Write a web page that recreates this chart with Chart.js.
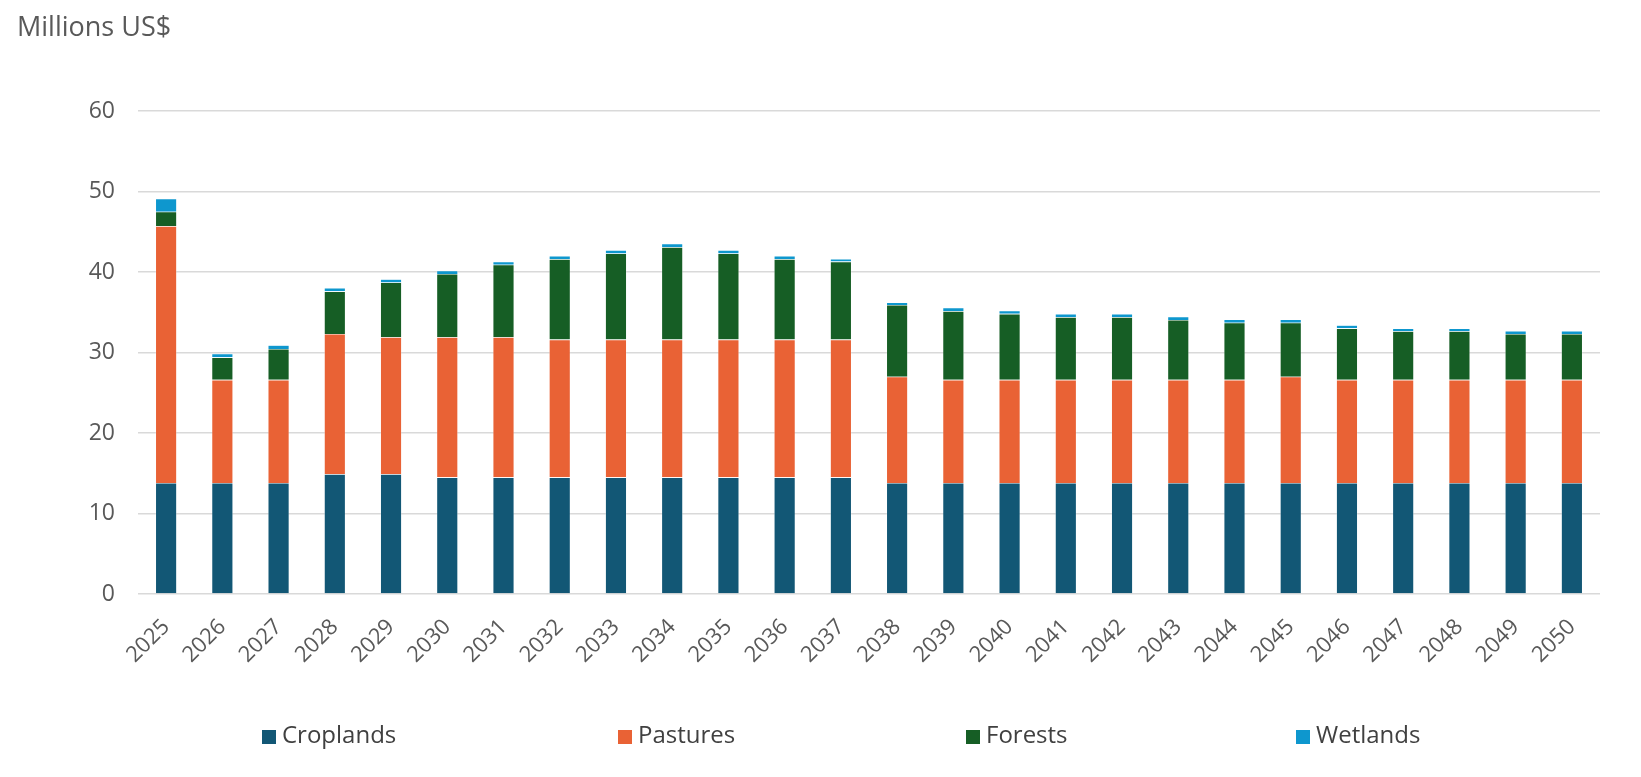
<!DOCTYPE html>
<html>
<head>
<meta charset="utf-8">
<script src="https://cdn.jsdelivr.net/npm/chart.js@4.4.1/dist/chart.umd.min.js"></script>
<style>
  html, body { margin: 0; padding: 0; background: #ffffff; }
  #wrap { position: relative; width: 1641px; height: 777px; }
</style>
</head>
<body>
<div id="wrap"><canvas id="c" width="1641" height="777"></canvas></div>
<script>
const years = ['2025','2026','2027','2028','2029','2030','2031','2032','2033','2034','2035','2036','2037','2038','2039','2040','2041','2042','2043','2044','2045','2046','2047','2048','2049','2050'];
const croplands = [13.8,13.8,13.8,14.9,14.9,14.5,14.5,14.5,14.5,14.5,14.5,14.5,14.5,13.8,13.8,13.8,13.8,13.8,13.8,13.8,13.8,13.8,13.8,13.8,13.8,13.8];
const pastures  = [31.9,12.8,12.8,17.4,17.0,17.4,17.4,17.1,17.1,17.1,17.1,17.1,17.1,13.2,12.8,12.8,12.8,12.8,12.8,12.8,13.2,12.8,12.8,12.8,12.8,12.8];
const forests   = [1.8,2.8,3.85,5.3,6.8,7.85,9.0,10.0,10.7,11.5,10.7,10.0,9.7,8.9,8.55,8.2,7.8,7.8,7.45,7.1,6.7,6.4,6.05,6.05,5.7,5.7];
const wetlands  = [1.6,0.45,0.45,0.41,0.41,0.41,0.38,0.39,0.42,0.43,0.42,0.39,0.34,0.33,0.41,0.41,0.41,0.41,0.41,0.41,0.41,0.4,0.35,0.35,0.37,0.37];
const seriesNames = ['Croplands','Pastures','Forests','Wetlands'];
const yTicks = [0,10,20,30,40,50,60];
const titleText = 'Millions US$';

const colors = ['#125775','#E96235','#165E25','#0E97CE'];
const FONT = "'Open Sans', 'DejaVu Sans', sans-serif";

const legendPlugin = {
  id: 'customLegend',
  afterDraw(chart) {
    const ctx = chart.ctx;
    const xs = [262, 618, 966, 1296];
    const baseY = 743;
    ctx.save();
    ctx.font = "24px " + FONT;
    ctx.textBaseline = 'alphabetic';
    ctx.textAlign = 'left';
    chart.data.datasets.forEach((ds, i) => {
      ctx.fillStyle = ds.backgroundColor;
      ctx.fillRect(xs[i], baseY - 13, 14, 14);
      ctx.fillStyle = '#404040';
      ctx.fillText(ds.label, xs[i] + 20, baseY);
    });
    ctx.restore();
  }
};

const dataSets = [croplands, pastures, forests, wetlands].map((arr, i) => ({
  label: seriesNames[i],
  data: arr,
  backgroundColor: colors[i],
  borderColor: 'rgba(255,255,255,0.55)',
  borderWidth: 0.6,
  categoryPercentage: 1.0,
  barPercentage: 0.38,
  stack: 's'
}));

new Chart(document.getElementById('c'), {
  type: 'bar',
  data: { labels: years, datasets: dataSets },
  options: {
    responsive: false,
    animation: false,
    devicePixelRatio: 1,
    layout: { padding: { left: 17, right: 41, top: 0, bottom: 83 } },
    plugins: {
      legend: { display: false },
      tooltip: { enabled: false },
      title: {
        display: true,
        text: titleText,
        align: 'start',
        color: '#595959',
        font: { family: FONT, size: 27, weight: 'normal' },
        padding: { top: 12, bottom: 66.6 }
      }
    },
    scales: {
      x: {
        stacked: true,
        grid: { display: false, drawTicks: false },
        border: { display: false },
        ticks: {
          color: '#595959',
          font: { family: FONT, size: 22 },
          minRotation: 45,
          maxRotation: 45,
          padding: 20,
          autoSkip: false
        },
        afterFit(scale) { scale.height = 100; }
      },
      y: {
        stacked: true,
        min: 0,
        max: 60,
        afterBuildTicks(scale) { scale.ticks = yTicks.map(v => ({ value: v })); },
        grid: { color: '#d9d9d9', lineWidth: 1.6, drawTicks: false },
        border: { display: false },
        ticks: {
          color: '#595959',
          font: { family: FONT, size: 23 },
          padding: 23
        },
        afterFit(scale) { scale.width = 121; }
      }
    }
  },
  plugins: [legendPlugin]
});
</script>
</body>
</html>
